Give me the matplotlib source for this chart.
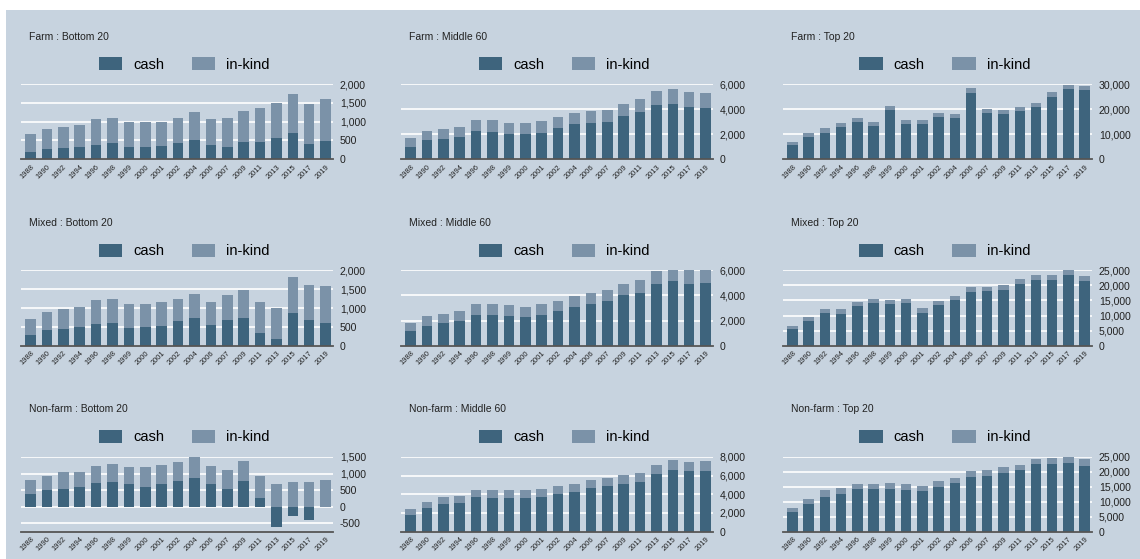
import matplotlib.pyplot as plt
from matplotlib.patches import Rectangle
from matplotlib.ticker import FuncFormatter

plt.rcParams['font.family'] = ['Liberation Sans', 'DejaVu Sans']

# 调查年份
years = ['1988', '1990', '1992', '1994', '1996', '1998', '1999', '2000', '2001', '2002',
         '2004', '2006', '2007', '2009', '2011', '2013', '2015', '2017', '2019']

# Farm
farm_bottom_cash = [205, 275, 300, 335, 390, 425, 335, 320, 355, 435, 515, 380, 335, 460, 460, 575, 700, 400, 490]
farm_bottom_inkind = [455, 530, 550, 585, 680, 675, 655, 670, 645, 665, 735, 700, 765, 825, 905, 915, 1045, 1080, 1105]
farm_middle_cash = [1010, 1510, 1590, 1780, 2280, 2200, 2020, 2020, 2130, 2500, 2790, 2900, 2950, 3450, 3770, 4360, 4410, 4170, 4090]
farm_middle_inkind = [690, 750, 830, 800, 850, 930, 900, 850, 900, 870, 900, 950, 980, 990, 1040, 1060, 1190, 1220, 1220]
farm_top_cash = [5840, 9030, 10620, 13020, 14740, 13150, 19660, 14210, 14210, 17000, 16340, 26560, 18460, 17930, 19390, 20980, 24700, 28020, 27490]
farm_top_inkind = [1060, 1470, 1730, 1460, 1730, 1720, 1720, 1590, 1590, 1460, 1590, 1860, 1730, 1730, 1460, 1460, 2130, 1730, 1860]

# Mixed
mixed_bottom_cash = [285, 405, 440, 495, 585, 610, 480, 485, 515, 645, 735, 550, 675, 735, 325, 175, 875, 690, 610]
mixed_bottom_inkind = [425, 490, 540, 530, 625, 640, 615, 610, 635, 605, 635, 610, 670, 745, 825, 825, 950, 910, 985]
mixed_middle_cash = [1140, 1580, 1780, 2000, 2470, 2420, 2330, 2250, 2470, 2750, 3080, 3330, 3560, 4000, 4190, 4890, 5170, 4890, 5000]
mixed_middle_inkind = [640, 750, 780, 750, 840, 890, 890, 860, 840, 830, 860, 890, 880, 940, 1030, 1030, 1160, 1140, 1220]
mixed_top_cash = [5560, 8110, 10890, 10670, 13110, 14110, 13670, 14000, 10780, 13330, 15000, 17780, 18000, 18560, 20440, 21890, 21780, 23560, 21330]
mixed_top_inkind = [1000, 1330, 1440, 1550, 1450, 1450, 1550, 1560, 1660, 1340, 1560, 1660, 1440, 1550, 1670, 1550, 1660, 1770, 1670]

# Non-farm
nonfarm_bottom_cash = [385, 515, 525, 590, 700, 750, 680, 600, 690, 790, 880, 670, 540, 790, 275, -600, -295, -415, -20]
nonfarm_bottom_inkind = [415, 410, 520, 465, 525, 540, 525, 585, 570, 550, 610, 555, 565, 590, 650, 1290, 1025, 1175, 820]
nonfarm_middle_cash = [1810, 2520, 2950, 3090, 3660, 3590, 3590, 3590, 3660, 4020, 4270, 4620, 4840, 5120, 5330, 6150, 6610, 6470, 6470]
nonfarm_middle_inkind = [640, 640, 750, 710, 820, 820, 820, 850, 860, 820, 850, 890, 920, 960, 930, 960, 1030, 1030, 1070]
nonfarm_top_cash = [6670, 9220, 11670, 12670, 14110, 14110, 14220, 13780, 13560, 15000, 16330, 18220, 18560, 19780, 20670, 22560, 22670, 23000, 22110]
nonfarm_top_inkind = [1330, 1780, 2220, 1890, 1890, 1890, 2000, 2000, 1770, 1890, 1780, 2000, 2000, 1890, 1770, 1880, 2110, 2110, 2110]

# 每个子图: 标题, cash, in-kind, y 轴范围, y 刻度
panels = [
    ['Farm : Bottom 20', farm_bottom_cash, farm_bottom_inkind, (0, 2000), [0, 500, 1000, 1500, 2000]],
    ['Farm : Middle 60', farm_middle_cash, farm_middle_inkind, (0, 6000), [0, 2000, 4000, 6000]],
    ['Farm : Top 20', farm_top_cash, farm_top_inkind, (0, 30000), [0, 10000, 20000, 30000]],
    ['Mixed : Bottom 20', mixed_bottom_cash, mixed_bottom_inkind, (0, 2000), [0, 500, 1000, 1500, 2000]],
    ['Mixed : Middle 60', mixed_middle_cash, mixed_middle_inkind, (0, 6000), [0, 2000, 4000, 6000]],
    ['Mixed : Top 20', mixed_top_cash, mixed_top_inkind, (0, 25000), [0, 5000, 10000, 15000, 20000, 25000]],
    ['Non-farm : Bottom 20', nonfarm_bottom_cash, nonfarm_bottom_inkind, (-750, 1500), [-500, 0, 500, 1000, 1500]],
    ['Non-farm : Middle 60', nonfarm_middle_cash, nonfarm_middle_inkind, (0, 8000), [0, 2000, 4000, 6000, 8000]],
    ['Non-farm : Top 20', nonfarm_top_cash, nonfarm_top_inkind, (0, 25000), [0, 5000, 10000, 15000, 20000, 25000]],
]

BG = '#c7d3df'
CASH = '#3e647d'
INKIND = '#7b92a8'
W, H = 1140, 559

# 像素位置 (左, 右) / (上, 下)
cols = [(20.7, 333), (400.7, 713), (782.7, 1092)]
rows = [(84, 159.3), (270.3, 345.7), (457, 531.5)]

fig = plt.figure(figsize=(W / 100, H / 100), dpi=100, facecolor='white')
fig.patches.append(Rectangle((6 / W, 0), 1 - 6 / W, 1 - 10 / H, transform=fig.transFigure,
                             facecolor=BG, edgecolor='none', zorder=-10))

fmt = FuncFormatter(lambda v, p: f'{v:,.0f}')
x = list(range(len(years)))

for i, (title, cash, inkind, ylim, yticks) in enumerate(panels):
    r, c = divmod(i, 3)
    x0, x1 = cols[c]
    y0, y1 = rows[r]
    ax = fig.add_axes([x0 / W, 1 - y1 / H, (x1 - x0) / W, (y1 - y0) / H])
    ax.set_facecolor('none')

    # in-kind 叠在 cash 上面; cash 为负时 cash 覆盖在下方
    ax.bar(x, inkind, bottom=cash, width=0.64, color=INKIND, label='in-kind', zorder=2)
    ax.bar(x, cash, width=0.64, color=CASH, label='cash', zorder=3)

    ax.set_xlim(-0.6, 18.45)
    ax.set_ylim(*ylim)
    ax.set_yticks(yticks)
    ax.yaxis.set_major_formatter(fmt)
    ax.yaxis.tick_right()
    ax.grid(axis='y', color='white', linewidth=1.2, zorder=1)
    ax.set_axisbelow(True)
    ax.tick_params(axis='y', length=0, pad=5, labelsize=7.6, labelcolor='#222222')
    ax.set_xticks(x)
    ax.set_xticklabels(years, rotation=45, ha='right', rotation_mode='anchor')
    ax.tick_params(axis='x', length=0, pad=3, labelsize=5.4, labelcolor='#222222')
    for s in ['top', 'left', 'right']:
        ax.spines[s].set_visible(False)
    ax.spines['bottom'].set_color('#555555')
    ax.spines['bottom'].set_linewidth(1.3)
    ax.spines['bottom'].set_zorder(4)

    # 标题
    title_y = [37.3, 223.3, 409.3][r]
    fig.text((x0 + 8.5) / W, 1 - title_y / H, title, fontsize=7.5, color='#222222', va='center', ha='left')

    # 图例
    leg_y = [64.7, 250.8, 437.2][r]
    handles, labels = ax.get_legend_handles_labels()
    ax.legend(handles[::-1], labels[::-1], ncol=2, frameon=False, loc='center',
              bbox_to_anchor=(((x0 + x1) / 2 + 7.5) / W, 1 - leg_y / H), bbox_transform=fig.transFigure,
              fontsize=10.5, handlelength=1.6, handleheight=1.0, handletextpad=0.75,
              columnspacing=1.9, borderpad=0, borderaxespad=0)

fig.savefig('out.png', dpi=100, facecolor='white')
